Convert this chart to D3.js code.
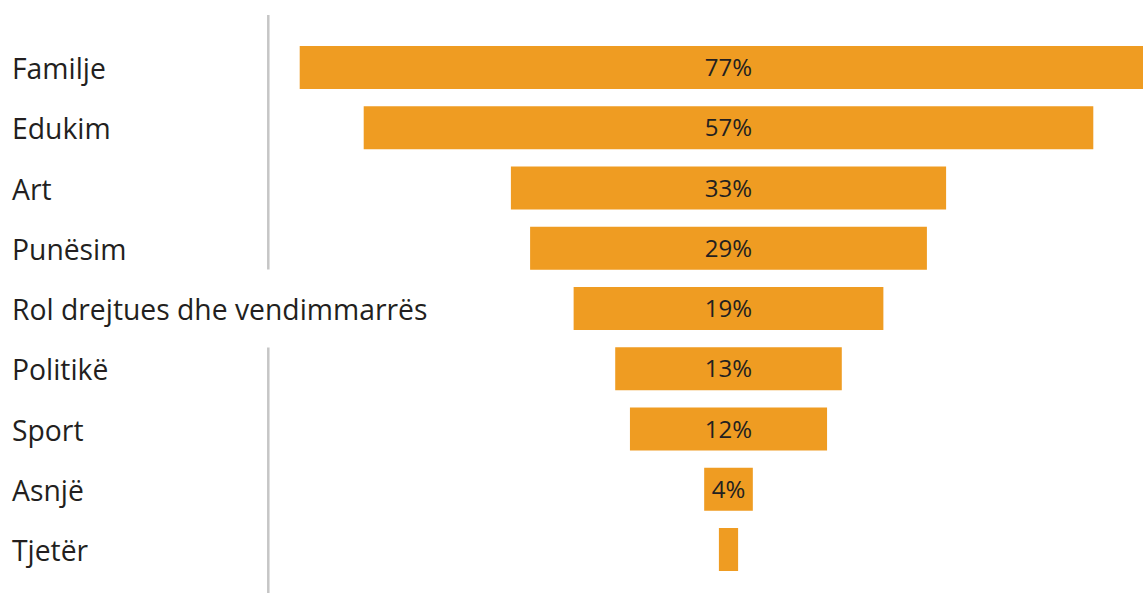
<!DOCTYPE html>
<html>
<head>
<meta charset="utf-8">
<script src="https://cdn.jsdelivr.net/npm/d3@7"></script>
<style>
  html, body { margin: 0; padding: 0; background: #fff; overflow: hidden; }
  text { font-family: "Open Sans", "Noto Sans", sans-serif; fill: #231f20; }
</style>
</head>
<body>
<div id="vis"></div>
<script>
// categories, printed shares, and bar lengths (same % units)
let categories = ['Familje', 'Edukim', 'Art', 'Punësim', 'Rol drejtues dhe vendimmarrës', 'Politikë', 'Sport', 'Asnjë', 'Tjetër'];
let shareLabels = ['77%', '57%', '33%', '29%', '19%', '13%', '12%', '4%', ''];
let barValues = [67, 57, 34, 31, 24.2, 17.7, 15.4, 3.8, 1.5];

let width = 1143,
  height = 593,
  centerX = 728.5,
  barHeight = 43;

let svg = d3.select('#vis')
  .append('svg')
  .attr('width', width)
  .attr('height', height)
  .attr('viewBox', [0, 0, width, height].join(' '));

let y = d3.scalePoint()
  .domain(categories)
  .range([67.5, 549.5]);

// full bar width per % unit
let w = d3.scaleLinear()
  .domain([0, 1])
  .range([0, 12.8]);

// gray divider, broken where the long label passes
svg.append('line')
  .attr('x1', 268.3).attr('x2', 268.3)
  .attr('y1', 15).attr('y2', 269.5)
  .attr('stroke', '#c6c6c6')
  .attr('stroke-width', 2.5);

svg.append('line')
  .attr('x1', 268.3).attr('x2', 268.3)
  .attr('y1', 347.5).attr('y2', 593)
  .attr('stroke', '#c6c6c6')
  .attr('stroke-width', 2.5);

let rows = svg.selectAll('g.row')
  .data(categories)
  .join('g')
  .attr('class', 'row')
  .attr('transform', d => 'translate(0,' + y(d) + ')');

rows.append('rect')
  .attr('x', (d, i) => centerX - w(barValues[i]) / 2)
  .attr('y', -barHeight / 2)
  .attr('width', (d, i) => w(barValues[i]))
  .attr('height', barHeight)
  .attr('fill', '#ef9c22');

rows.append('text')
  .attr('x', 12)
  .attr('dy', '0.41em')
  .style('font-size', '28.3px')
  .text(d => d);

rows.append('text')
  .attr('x', centerX)
  .attr('dy', '0.36em')
  .attr('text-anchor', 'middle')
  .style('font-size', '24px')
  .text((d, i) => shareLabels[i]);
</script>
</body>
</html>
